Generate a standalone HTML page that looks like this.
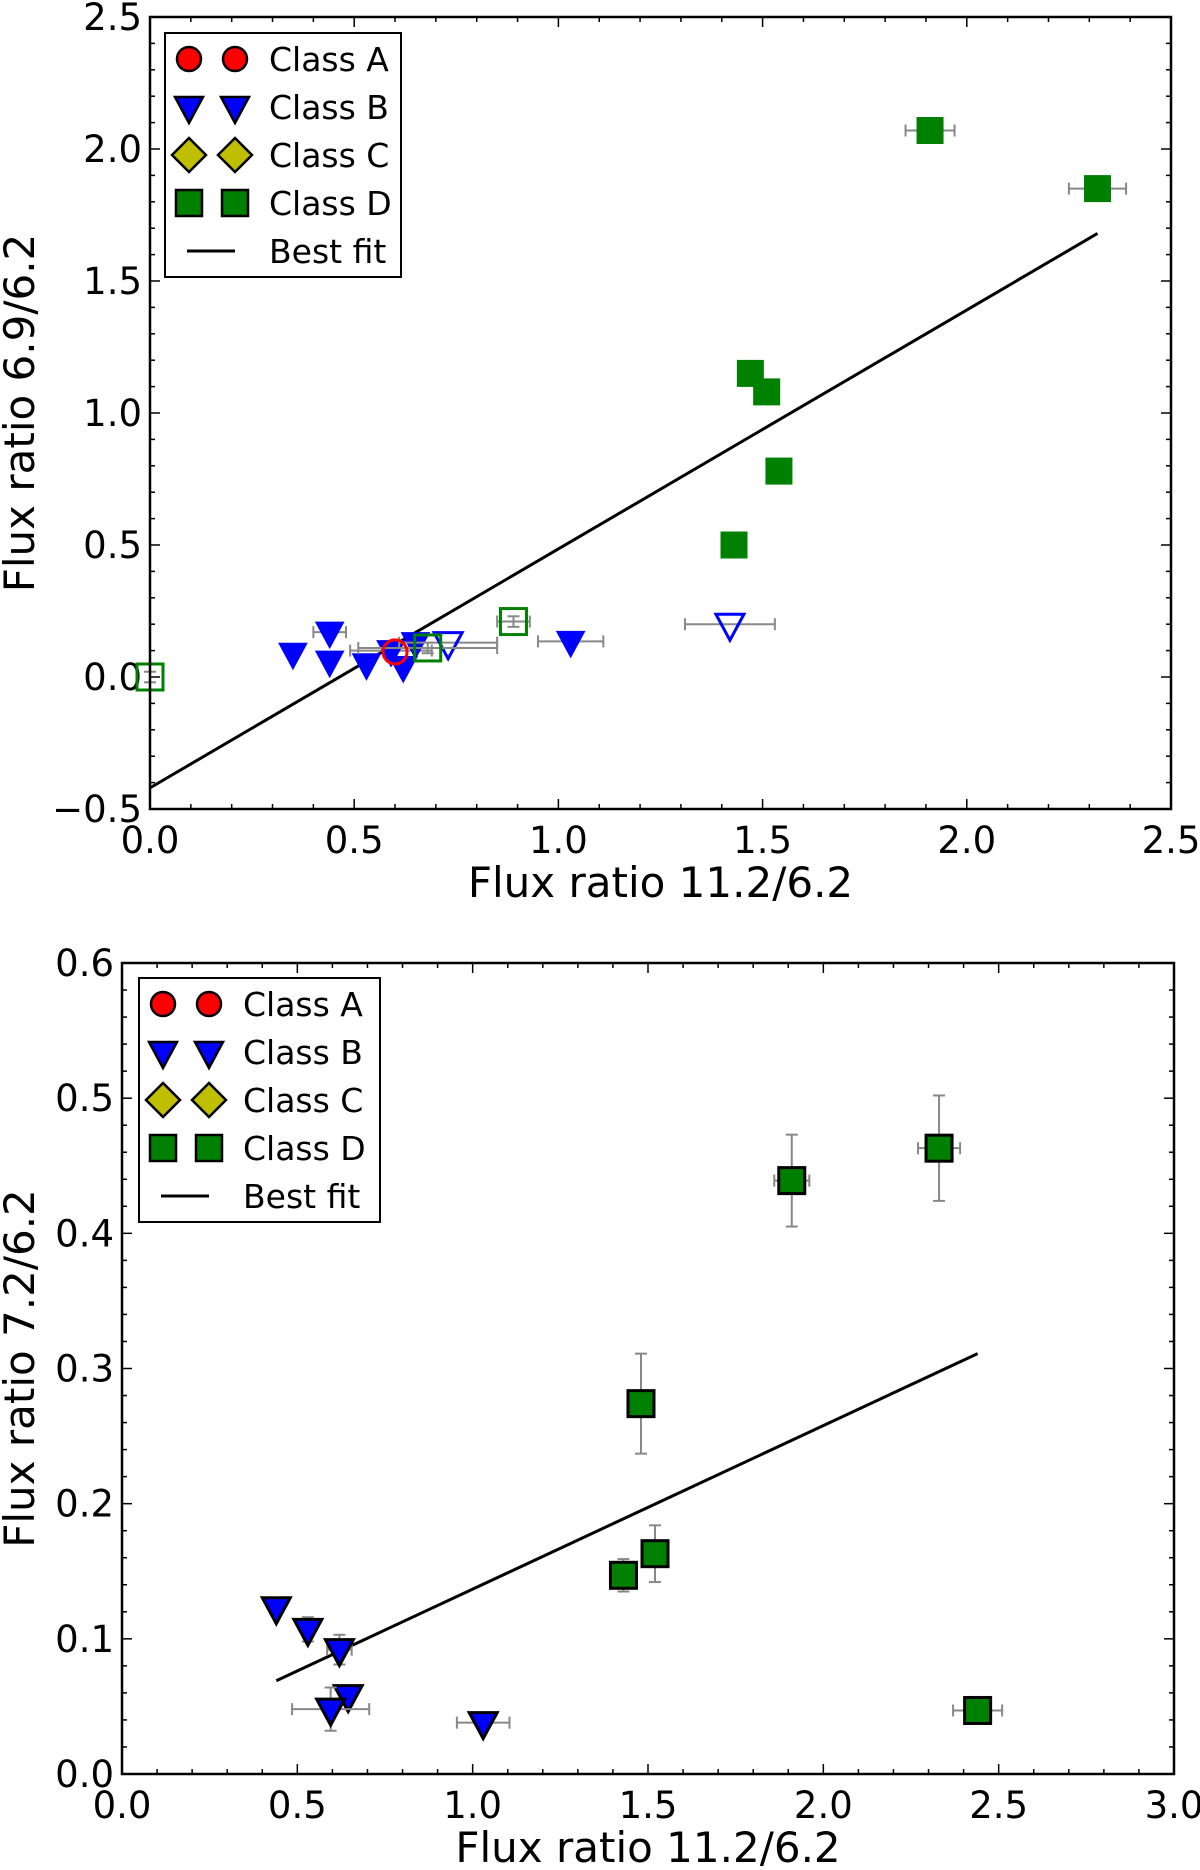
<!DOCTYPE html>
<html><head><meta charset="utf-8">
<style>
html,body{margin:0;padding:0;background:#fff;}
svg{display:block;font-family:"DejaVu Sans","Liberation Sans",sans-serif;}
</style></head>
<body>
<svg id="fig" width="1200" height="1870" viewBox="0 0 1200 1870" xmlns="http://www.w3.org/2000/svg"></svg>
<script>
// ---------- Top panel data ----------
const topDFilledX = [1.91, 2.32, 1.47, 1.51, 1.54, 1.43];
const topDFilledY = [2.07, 1.85, 1.15, 1.08, 0.78, 0.50];
const topDFilledXErr = [0.06, 0.07, 0, 0, 0, 0];
const topDFilledYErr = [0.03, 0.03, 0, 0, 0.04, 0];
const topDOpenX = [0.0, 0.89, 0.68];
const topDOpenY = [0.0, 0.21, 0.11];
const topDOpenXErr = [0, 0.04, 0.17];
const topBFilledX = [0.35, 0.44, 0.44, 0.53, 0.62, 0.59, 0.65, 1.03];
const topBFilledY = [0.09, 0.17, 0.06, 0.05, 0.04, 0.10, 0.13, 0.135];
const topBFilledXErr = [0, 0.04, 0, 0, 0, 0.1, 0, 0.08];
const topBOpenX = [0.73, 1.42];
const topBOpenY = [0.13, 0.20];
const topBOpenXErr = [0.12, 0.11];
const topAOpenX = [0.60];
const topAOpenY = [0.095];
const topFitX = [0.0, 2.32];
const topFitY = [-0.42, 1.68];
const topXTicks = ["0.0","0.5","1.0","1.5","2.0","2.5"];
const topYTicks = ["\u22120.5","0.0","0.5","1.0","1.5","2.0","2.5"];

// ---------- Bottom panel data ----------
const botDX = [1.91, 2.33, 1.48, 1.43, 1.52, 2.44];
const botDY = [0.439, 0.463, 0.274, 0.147, 0.163, 0.047];
const botDXErr = [0.05, 0.06, 0, 0, 0, 0.07];
const botDYErr = [0.034, 0.039, 0.037, 0.012, 0.021, 0];
const botBX = [0.44, 0.53, 0.62, 0.645, 0.595, 1.03];
const botBY = [0.123, 0.107, 0.092, 0.058, 0.048, 0.038];
const botBXErr = [0, 0, 0.035, 0, 0.11, 0.075];
const botBYErr = [0, 0.009, 0.011, 0, 0.016, 0];
const botFitX = [0.44, 2.44];
const botFitY = [0.069, 0.311];
const botXTicks = ["0.0","0.5","1.0","1.5","2.0","2.5","3.0"];
const botYTicks = ["0.0","0.1","0.2","0.3","0.4","0.5","0.6"];

const NS = "http://www.w3.org/2000/svg";
const fig = document.getElementById('fig');
function mk(tag, attrs, parent){
  const e = document.createElementNS(NS, tag);
  for (const k in attrs) e.setAttribute(k, attrs[k]);
  (parent||fig).appendChild(e);
  return e;
}

function panel(cfg){
  const g = mk('g', {});
  
  
  const L=cfg.L,R=cfg.R,T=cfg.T,B=cfg.B;
  const sx = v => L + (v - cfg.x0)/(cfg.x1-cfg.x0)*(R-L);
  const sy = v => B - (v - cfg.y0)/(cfg.y1-cfg.y0)*(B-T);
  const tg = mk('g', {stroke:'#000','stroke-width':1.5}, g);
  for (let v=cfg.x0; v<=cfg.x1+1e-9; v+=cfg.xminor){
    const major = Math.abs(Math.round(v/cfg.xmajor)*cfg.xmajor - v) < 1e-6;
    const len = major?10:5, x=sx(v);
    mk('line',{x1:x,y1:B,x2:x,y2:B-len},tg);
    mk('line',{x1:x,y1:T,x2:x,y2:T+len},tg);
  }
  for (let v=cfg.y0; v<=cfg.y1+1e-9; v+=cfg.yminor){
    const major = Math.abs(Math.round(v/cfg.ymajor)*cfg.ymajor - v) < 1e-6;
    const len = major?10:5, y=sy(v);
    mk('line',{x1:L,y1:y,x2:L+len,y2:y},tg);
    mk('line',{x1:R,y1:y,x2:R-len,y2:y},tg);
  }
  cfg.xTicks.forEach((t,i)=>{
    const e = mk('text',{x:sx(cfg.x0+i*cfg.xmajor),y:B+44,'font-size':37,'text-anchor':'middle'},g);
    e.textContent=t;
    
    
  });
  cfg.yTicks.forEach((t,i)=>{
    const e = mk('text',{x:L-8,y:sy(cfg.y0+i*cfg.ymajor)+13,'font-size':37,'text-anchor':'end'},g);
    e.textContent=t;
    
    
  });
  const xl = mk('text',{x:(L+R)/2,y:cfg.xlabelY,'font-size':42,'text-anchor':'middle'},g);
  xl.textContent = cfg.xlabel;
  
  
  const yl = mk('text',{x:0,y:0,'font-size':42,'text-anchor':'middle',transform:`translate(34,${(T+B)/2}) rotate(-90)`},g);
  yl.textContent = cfg.ylabel;
  
  
  return {g,sx,sy,L,R,T,B};
}

function errbar(g, sx, sy, x, y, xe, ye){
  const eg = mk('g',{stroke:'#888','stroke-width':2},g);
  
  
  if (xe>0){
    const a=sx(x-xe), b=sx(x+xe), yy=sy(y);
    mk('line',{x1:a,y1:yy,x2:b,y2:yy},eg);
    mk('line',{x1:a,y1:yy-6,x2:a,y2:yy+6},eg);
    mk('line',{x1:b,y1:yy-6,x2:b,y2:yy+6},eg);
  }
  if (ye>0){
    const a=sy(y-ye), b=sy(y+ye), xx=sx(x);
    mk('line',{x1:xx,y1:a,x2:xx,y2:b},eg);
    mk('line',{x1:xx-6,y1:a,x2:xx+6,y2:a},eg);
    mk('line',{x1:xx-6,y1:b,x2:xx+6,y2:b},eg);
  }
}
function marker(g, type, cx, cy, fill, stroke, sw, name){
  let e;
  if (type==='s') e = mk('rect',{x:cx-13,y:cy-13,width:26,height:26,fill,stroke,'stroke-width':sw},g);
  else if (type==='v') e = mk('polygon',{points:`${cx-14},${cy-10} ${cx+14},${cy-10} ${cx},${cy+16}`,fill,stroke,'stroke-width':sw,'stroke-linejoin':'miter'},g);
  else if (type==='o') e = mk('circle',{cx,cy,r:12,fill,stroke,'stroke-width':sw},g);
  else if (type==='d') e = mk('polygon',{points:`${cx},${cy-17} ${cx+17},${cy} ${cx},${cy+17} ${cx-17},${cy}`,fill,stroke,'stroke-width':sw},g);
  
  
  return e;
}
function legend(g, x, y, w, h, rows){
  const lg = mk('g',{},g);
  
  
  mk('rect',{x,y,width:w,height:h,fill:'#fff',stroke:'#000','stroke-width':2},lg);
  const items=[['o','#f00','Class A'],['v','#00f','Class B'],['d','#bfbf00','Class C'],['s','#008000','Class D'],['l','','Best fit']];
  items.forEach((it,i)=>{
    const cy = y+26+i*rows;
    const eg = mk('g',{},lg);
    
    
    if (it[0]==='l') mk('line',{x1:x+22,y1:cy,x2:x+70,y2:cy,stroke:'#000','stroke-width':3},eg);
    else { marker(eg,it[0],x+24,cy,it[1],'#000',2.5,'legend-marker'); marker(eg,it[0],x+70,cy,it[1],'#000',2.5,'legend-marker'); }
    const t = mk('text',{x:x+104,y:cy+12,'font-size':33},eg);
    t.textContent = it[2];
  });
}

// ---------- Top panel ----------
const P1 = panel({name:'top-chart',L:150,R:1171,T:17,B:809,x0:0,x1:2.5,y0:-0.5,y1:2.5,xmajor:0.5,xminor:0.1,ymajor:0.5,yminor:0.1,
  xTicks:topXTicks,yTicks:topYTicks,xlabel:'Flux ratio 11.2/6.2',ylabel:'Flux ratio 6.9/6.2',xlabelY:897});
(function(){
  const {g,sx,sy}=P1;
  const fit = mk('line',{x1:sx(topFitX[0]),y1:sy(topFitY[0]),x2:sx(topFitX[1]),y2:sy(topFitY[1]),stroke:'#000','stroke-width':3},g);
  
  
  topBFilledX.forEach((x,i)=>{ errbar(g,sx,sy,x,topBFilledY[i],topBFilledXErr[i],0); marker(g,'v',sx(x),sy(topBFilledY[i]),'#00f','#00f',1,'class-b-point'); });
  topBOpenX.forEach((x,i)=>{ errbar(g,sx,sy,x,topBOpenY[i],topBOpenXErr[i],0); marker(g,'v',sx(x),sy(topBOpenY[i]),'none','#00f',3,'class-b-open-point'); });
  topDOpenX.forEach((x,i)=>{ errbar(g,sx,sy,x,topDOpenY[i],topDOpenXErr[i],0.02); marker(g,'s',sx(x),sy(topDOpenY[i]),'none','#008000',3,'class-d-open-point'); });
  topAOpenX.forEach((x,i)=>{ marker(g,'o',sx(x),sy(topAOpenY[i]),'none','#f00',3,'class-a-open-point'); });
  topDFilledX.forEach((x,i)=>{ errbar(g,sx,sy,x,topDFilledY[i],topDFilledXErr[i],topDFilledYErr[i]); marker(g,'s',sx(x),sy(topDFilledY[i]),'#008000','#008000',1,'class-d-point'); });
  mk('rect',{x:150,y:17,width:1021,height:792,fill:'none',stroke:'#000','stroke-width':2.5},g);
  legend(g,165,33,236,244,48);
})();

// ---------- Bottom panel ----------
const P2 = panel({name:'bottom-chart',L:122,R:1174,T:963,B:1774,x0:0,x1:3.0,y0:0,y1:0.6,xmajor:0.5,xminor:0.1,ymajor:0.1,yminor:0.02,
  xTicks:botXTicks,yTicks:botYTicks,xlabel:'Flux ratio 11.2/6.2',ylabel:'Flux ratio 7.2/6.2',xlabelY:1862});
(function(){
  const {g,sx,sy}=P2;
  const fit = mk('line',{x1:sx(botFitX[0]),y1:sy(botFitY[0]),x2:sx(botFitX[1]),y2:sy(botFitY[1]),stroke:'#000','stroke-width':3},g);
  
  
  botBX.forEach((x,i)=>{ errbar(g,sx,sy,x,botBY[i],botBXErr[i],botBYErr[i]); marker(g,'v',sx(x),sy(botBY[i]),'#00f','#000',3,'class-b-point'); });
  botDX.forEach((x,i)=>{ errbar(g,sx,sy,x,botDY[i],botDXErr[i],botDYErr[i]); marker(g,'s',sx(x),sy(botDY[i]),'#008000','#000',3,'class-d-point'); });
  mk('rect',{x:122,y:963,width:1052,height:811,fill:'none',stroke:'#000','stroke-width':2.5},g);
  legend(g,139,978,241,244,48);
})();
</script>
</body></html>
